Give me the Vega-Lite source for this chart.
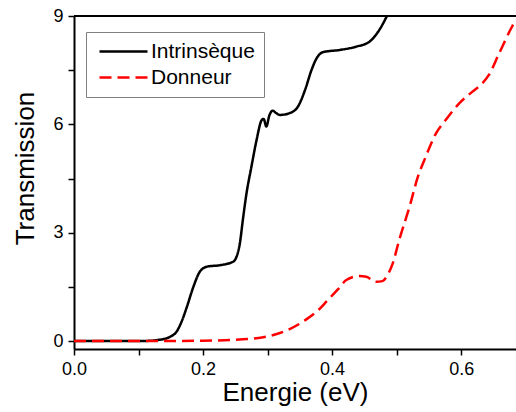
{
  "$schema": "https://vega.github.io/schema/vega-lite/v6.json",
  "width": 442,
  "height": 333,
  "autosize": {"type": "none"},
  "padding": {"left": 74, "top": 16, "right": 0, "bottom": 63},
  "config": {"view": {"stroke": null}, "font": "Liberation Sans"},
  "data": {"values": [
    {"s": "Intrinsèque", "E": 0.0, "T": 0.0},
    {"s": "Intrinsèque", "E": 0.05, "T": 0.0},
    {"s": "Intrinsèque", "E": 0.1, "T": 0.0},
    {"s": "Intrinsèque", "E": 0.12, "T": 0.01},
    {"s": "Intrinsèque", "E": 0.13, "T": 0.03},
    {"s": "Intrinsèque", "E": 0.14, "T": 0.06},
    {"s": "Intrinsèque", "E": 0.149, "T": 0.12},
    {"s": "Intrinsèque", "E": 0.159, "T": 0.26},
    {"s": "Intrinsèque", "E": 0.167, "T": 0.55},
    {"s": "Intrinsèque", "E": 0.175, "T": 0.95},
    {"s": "Intrinsèque", "E": 0.185, "T": 1.5},
    {"s": "Intrinsèque", "E": 0.195, "T": 1.92},
    {"s": "Intrinsèque", "E": 0.206, "T": 2.06},
    {"s": "Intrinsèque", "E": 0.226, "T": 2.1},
    {"s": "Intrinsèque", "E": 0.247, "T": 2.2},
    {"s": "Intrinsèque", "E": 0.252, "T": 2.34},
    {"s": "Intrinsèque", "E": 0.257, "T": 2.7},
    {"s": "Intrinsèque", "E": 0.262, "T": 3.4},
    {"s": "Intrinsèque", "E": 0.267, "T": 4.05},
    {"s": "Intrinsèque", "E": 0.275, "T": 4.83},
    {"s": "Intrinsèque", "E": 0.283, "T": 5.57},
    {"s": "Intrinsèque", "E": 0.291, "T": 6.12},
    {"s": "Intrinsèque", "E": 0.294, "T": 6.15},
    {"s": "Intrinsèque", "E": 0.298, "T": 5.94},
    {"s": "Intrinsèque", "E": 0.303, "T": 6.26},
    {"s": "Intrinsèque", "E": 0.308, "T": 6.38},
    {"s": "Intrinsèque", "E": 0.312, "T": 6.33},
    {"s": "Intrinsèque", "E": 0.319, "T": 6.26},
    {"s": "Intrinsèque", "E": 0.334, "T": 6.31},
    {"s": "Intrinsèque", "E": 0.347, "T": 6.49},
    {"s": "Intrinsèque", "E": 0.358, "T": 6.95},
    {"s": "Intrinsèque", "E": 0.368, "T": 7.5},
    {"s": "Intrinsèque", "E": 0.376, "T": 7.83},
    {"s": "Intrinsèque", "E": 0.386, "T": 8.0},
    {"s": "Intrinsèque", "E": 0.412, "T": 8.06},
    {"s": "Intrinsèque", "E": 0.437, "T": 8.15},
    {"s": "Intrinsèque", "E": 0.458, "T": 8.29},
    {"s": "Intrinsèque", "E": 0.473, "T": 8.61},
    {"s": "Intrinsèque", "E": 0.485, "T": 9.0},
    {"s": "Donneur", "E": 0.0, "T": 0.0},
    {"s": "Donneur", "E": 0.1, "T": 0.0},
    {"s": "Donneur", "E": 0.2, "T": 0.01},
    {"s": "Donneur", "E": 0.262, "T": 0.05},
    {"s": "Donneur", "E": 0.298, "T": 0.12},
    {"s": "Donneur", "E": 0.329, "T": 0.29},
    {"s": "Donneur", "E": 0.36, "T": 0.6},
    {"s": "Donneur", "E": 0.381, "T": 0.9},
    {"s": "Donneur", "E": 0.391, "T": 1.09},
    {"s": "Donneur", "E": 0.41, "T": 1.45},
    {"s": "Donneur", "E": 0.422, "T": 1.69},
    {"s": "Donneur", "E": 0.442, "T": 1.8},
    {"s": "Donneur", "E": 0.453, "T": 1.78},
    {"s": "Donneur", "E": 0.468, "T": 1.64},
    {"s": "Donneur", "E": 0.478, "T": 1.66},
    {"s": "Donneur", "E": 0.486, "T": 1.83},
    {"s": "Donneur", "E": 0.494, "T": 2.15},
    {"s": "Donneur", "E": 0.504, "T": 2.8},
    {"s": "Donneur", "E": 0.52, "T": 3.72},
    {"s": "Donneur", "E": 0.533, "T": 4.55},
    {"s": "Donneur", "E": 0.545, "T": 5.1},
    {"s": "Donneur", "E": 0.561, "T": 5.75},
    {"s": "Donneur", "E": 0.576, "T": 6.12},
    {"s": "Donneur", "E": 0.597, "T": 6.58},
    {"s": "Donneur", "E": 0.617, "T": 6.9},
    {"s": "Donneur", "E": 0.633, "T": 7.14},
    {"s": "Donneur", "E": 0.643, "T": 7.37},
    {"s": "Donneur", "E": 0.659, "T": 7.97},
    {"s": "Donneur", "E": 0.679, "T": 8.71},
    {"s": "Donneur", "E": 0.685, "T": 8.9}
  ]},
  "layer": [
    {
      "mark": {"type": "line", "strokeWidth": 2.5, "interpolate": "monotone", "clip": true},
      "encoding": {
        "x": {
          "field": "E", "type": "quantitative",
          "scale": {"domain": [0, 0.685], "nice": false, "zero": false},
          "axis": {
            "values": [0, 0.1, 0.2, 0.3, 0.4, 0.5, 0.6],
            "labelExpr": "round(datum.value*10) % 2 == 0 ? format(datum.value, '.1f') : ''",
            "title": "Energie (eV)",
            "titleFontSize": 26, "titleFontWeight": "normal", "titleColor": "black",
            "titleBaseline": "alphabetic", "titleY": 51,
            "labelFontSize": 18, "labelColor": "black", "labelFlush": false, "labelPadding": 5,
            "domainColor": "black", "domainWidth": 2,
            "ticks": true, "tickColor": "black", "tickWidth": 1.5, "tickSize": 6,
            "grid": false
          }
        },
        "y": {
          "field": "T", "type": "quantitative",
          "scale": {"domain": [-0.22, 9], "nice": false, "zero": false},
          "axis": {
            "values": [0, 1.5, 3, 4.5, 6, 7.5, 9],
            "labelExpr": "datum.value % 3 == 0 ? format(datum.value, 'd') : ''",
            "title": "Transmission",
            "titleFontSize": 26, "titleFontWeight": "normal", "titleColor": "black",
            "titleBaseline": "alphabetic", "titleX": -41, "titleY": 152,
            "labelFontSize": 18, "labelColor": "black", "labelFlush": false, "labelPadding": 5,
            "domainColor": "black", "domainWidth": 2,
            "ticks": true, "tickColor": "black", "tickWidth": 1.5, "tickSize": 6,
            "grid": false
          }
        },
        "color": {
          "field": "s", "type": "nominal",
          "scale": {"domain": ["Intrinsèque", "Donneur"], "range": ["#000000", "#ff0000"]},
          "legend": {
            "title": null, "orient": "none", "legendX": 12, "legendY": 16,
            "strokeColor": "#808080", "padding": 9, "rowPadding": 4,
            "labelFontSize": 21, "labelColor": "black", "labelOffset": 17,
            "symbolType": "M-4,0H4", "symbolSize": 144, "symbolOffset": 18,
            "symbolStrokeWidth": 2.5, "symbolFillColor": "transparent"
          }
        },
        "strokeDash": {
          "field": "s", "type": "nominal",
          "scale": {"domain": ["Intrinsèque", "Donneur"], "range": [[1, 0], [12, 6]]},
          "legend": {
            "title": null, "orient": "none", "legendX": 12, "legendY": 16,
            "strokeColor": "#808080", "padding": 9, "rowPadding": 4,
            "labelFontSize": 21, "labelColor": "black", "labelOffset": 17,
            "symbolType": "M-4,0H4", "symbolSize": 144, "symbolOffset": 18,
            "symbolStrokeWidth": 2.5, "symbolFillColor": "transparent"
          }
        }
      }
    },
    {
      "mark": {"type": "rule", "color": "black", "strokeWidth": 2},
      "encoding": {"y": {"datum": 9}}
    }
  ]
}
